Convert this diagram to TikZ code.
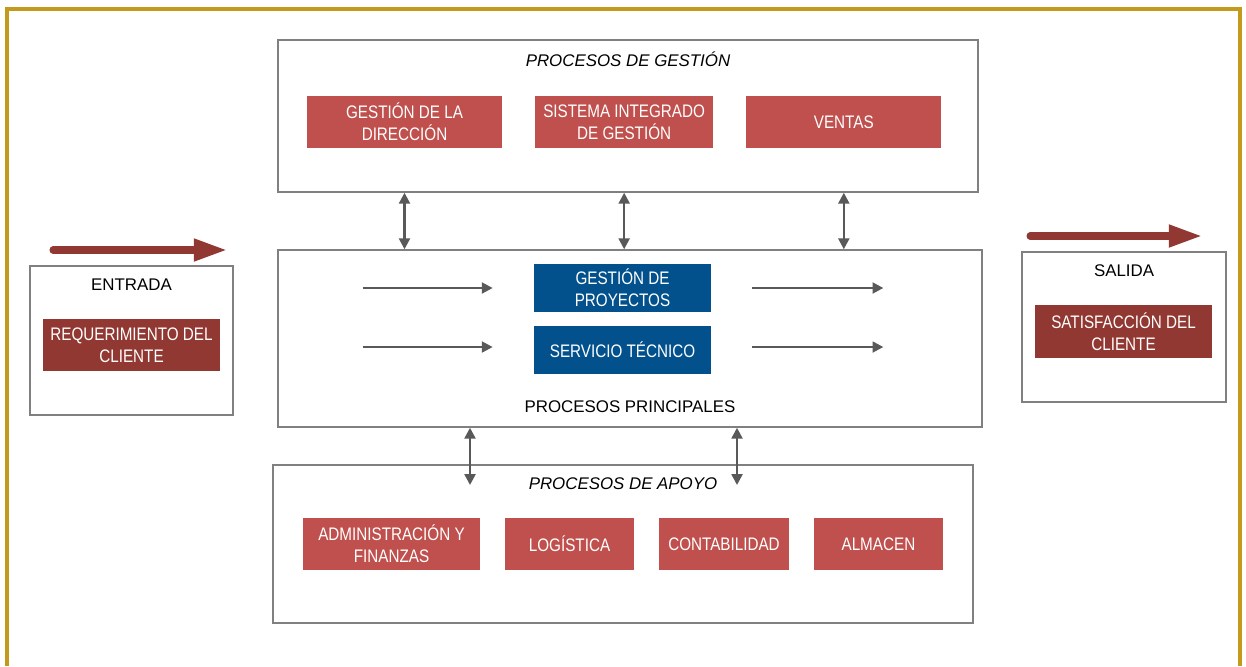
\documentclass[tikz,border=0pt]{standalone}
\usepackage{fontspec}
\setmainfont{Liberation Sans}
\newfontfamily\narrowfont{Liberation Sans}[FakeStretch=0.84]
\usetikzlibrary{arrows,arrows.meta}

\definecolor{redbox}{RGB}{192,80,77}
\definecolor{darkred}{RGB}{146,56,51}
\definecolor{bluebox}{RGB}{2,81,140}
\definecolor{linegray}{RGB}{128,128,128}
\definecolor{arrowgray}{RGB}{89,89,89}
\definecolor{framegold}{RGB}{196,154,28}

\begin{document}
\begin{tikzpicture}[x=0.025cm,y=-0.025cm,
  >={Triangle[length=2.7mm,width=2.7mm]},
  group node/.style={rectangle,draw=linegray,line width=1pt,inner sep=0pt},
  main node/.style={rectangle,fill=redbox,text=white,align=center,inner sep=0pt,
    font=\narrowfont\fontsize{12.9}{15.6}\selectfont,
    minimum width=4.425cm,minimum height=1.3cm},
  label node/.style={font=\fontsize{12}{14.4}\selectfont,inner sep=0pt},
  title node/.style={font=\itshape\fontsize{12}{14.4}\selectfont,inner sep=0pt},
  flow arrow/.style={->,color=arrowgray,line width=1.7pt},
  big arrow/.style={-{Triangle[length=8.3mm,width=5.3mm]},color=darkred,
    line width=5pt,line cap=round}]

  \useasboundingbox (0,0) rectangle (1246,666);
  \draw[framegold,line width=2.8pt] (7,666) -- (7,9) -- (1240,9) -- (1240,666);

  % procesos de gestion
  \node[group node,minimum width=17.5cm,minimum height=3.8cm] (Gestion) at (628,116) {};
  \node[title node] (GestionTit) at (628,59) {PROCESOS DE GESTIÓN};
  \node[main node,minimum width=4.875cm] (Direccion) at (404.5,122) {GESTIÓN DE LA\\DIRECCIÓN};
  \node[main node,minimum width=4.45cm] (Sig) [node distance=5.49cm, right of=Direccion] {SISTEMA INTEGRADO\\DE GESTIÓN};
  \node[main node,minimum width=4.875cm] (Ventas) [node distance=5.49cm, right of=Sig] {VENTAS};

  % procesos principales
  \node[group node,minimum width=17.6cm,minimum height=4.425cm] (Principales) at (630,338.5) {};
  \node[label node] (PrincipalesTit) at (630,407) {PROCESOS PRINCIPALES};
  \node[main node,fill=bluebox,minimum height=1.2cm] (Proyectos) at (622.5,288) {GESTIÓN DE\\PROYECTOS};
  \node[main node,fill=bluebox,minimum height=1.2cm] (Tecnico) [node distance=1.55cm, below of=Proyectos] {SERVICIO TÉCNICO};

  % procesos de apoyo
  \node[group node,minimum width=17.5cm,minimum height=3.95cm] (Apoyo) at (623,544) {};
  \node[title node] (ApoyoTit) at (623,484) {PROCESOS DE APOYO};
  \node[main node] (Admin) at (391.5,544) {ADMINISTRACIÓN Y\\FINANZAS};
  \node[main node,minimum width=3.225cm] (Logistica) [node distance=4.45cm, right of=Admin] {LOGÍSTICA};
  \node[main node,minimum width=3.25cm] (Contabilidad) [node distance=3.86cm, right of=Logistica] {CONTABILIDAD};
  \node[main node,minimum width=3.225cm] (Almacen) [node distance=3.86cm, right of=Contabilidad] {ALMACEN};

  % entrada y salida
  \node[group node,minimum width=5.075cm,minimum height=3.725cm] (Entrada) at (131.5,340.5) {};
  \node[label node] (EntradaTit) at (131.5,285) {ENTRADA};
  \node[main node,fill=darkred] (Requerimiento) at (131.5,345) {REQUERIMIENTO DEL\\CLIENTE};
  \node[group node,minimum width=5.1cm,minimum height=3.75cm] (Salida) at (1124,327) {};
  \node[label node] (SalidaTit) at (1124,271) {SALIDA};
  \node[main node,fill=darkred,minimum height=1.325cm] (Satisfaccion) at (1123.5,331.5) {SATISFACCIÓN DEL\\CLIENTE};

  \coordinate (InStart) at (53,250);
  \coordinate (InEnd) at (227,250);
  \coordinate (OutStart) at (1030,236);
  \coordinate (OutEnd) at (1202,236);
  \coordinate (ApoyoA) at (470,485);
  \coordinate (ApoyoB) at (737,485);

  \draw[big arrow] (InStart) -- (InEnd);
  \draw[big arrow] (OutStart) -- (OutEnd);

  \draw[flow arrow,<->] (Direccion.south |- Gestion.south) -- (Direccion.south |- Principales.north);
  \draw[flow arrow,<->] (Sig.south |- Gestion.south) -- (Sig.south |- Principales.north);
  \draw[flow arrow,<->] (Ventas.south |- Gestion.south) -- (Ventas.south |- Principales.north);
  \draw[flow arrow,<->] (Principales.south -| ApoyoA) -- (ApoyoA);
  \draw[flow arrow,<->] (Principales.south -| ApoyoB) -- (ApoyoB);

  \draw[flow arrow] ([xshift=-4.275cm]Proyectos.west) -- ([xshift=-1.025cm]Proyectos.west);
  \draw[flow arrow] ([xshift=1.025cm]Proyectos.east) -- ([xshift=4.3cm]Proyectos.east);
  \draw[flow arrow] ([xshift=-4.275cm,yshift=0.075cm]Tecnico.west) -- ([xshift=-1.025cm,yshift=0.075cm]Tecnico.west);
  \draw[flow arrow] ([xshift=1.025cm,yshift=0.075cm]Tecnico.east) -- ([xshift=4.3cm,yshift=0.075cm]Tecnico.east);
\end{tikzpicture}
\end{document}
